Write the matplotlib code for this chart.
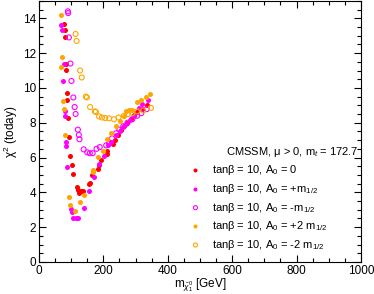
import matplotlib
matplotlib.use("Agg")
import matplotlib.pyplot as plt
from matplotlib.ticker import MultipleLocator

plt.rcParams['font.family'] = ['Liberation Sans', 'DejaVu Sans']
plt.rcParams['mathtext.fontset'] = 'custom'
plt.rcParams['mathtext.rm'] = 'Liberation Sans'
plt.rcParams['mathtext.it'] = 'Liberation Sans:italic'
plt.rcParams['mathtext.bf'] = 'Liberation Sans:bold'

# A0 = 0 (red, filled)
red_x = [79, 81, 80, 84, 83, 87, 87, 91, 95, 98, 102, 107, 118, 121, 124, 130, 137,
         155, 158, 165, 182, 188, 194, 210, 213, 229, 235, 245, 255, 265, 275, 285,
         295, 305, 321, 337]
red_y = [13.7, 13.3, 12.9, 11.4, 11.05, 9.73, 9.3, 8.27, 7.2, 6.1, 5.58, 5.05, 4.3,
         4.15, 3.95, 4.05, 4.05, 4.47, 4.55, 5.0, 5.33, 5.55, 5.85, 6.2, 6.35, 6.78,
         7.0, 7.3, 7.6, 7.8, 8.0, 8.2, 8.45, 8.6, 8.8, 9.03]

# A0 = +m1/2 (magenta, filled)
mag_x = [70, 72, 78, 75, 80, 81, 83, 83, 88, 99, 102, 107, 116, 121, 139, 155, 171,
         186, 203, 215, 225, 240, 252, 262, 272, 283, 295, 310, 320, 339]
mag_y = [13.6, 13.3, 11.4, 10.4, 8.7, 8.4, 6.9, 6.65, 5.45, 3.03, 2.88, 2.55, 2.52,
         2.55, 3.12, 4.07, 4.9, 5.64, 6.1, 6.7, 6.9, 7.3, 7.55, 7.75, 7.95, 8.15,
         8.4, 8.87, 9.1, 9.33]

# A0 = -m1/2 (magenta, open)
magopen_x = [90, 91, 93, 98, 101, 107, 111, 114, 121, 124, 126, 139, 150, 158, 167,
             179, 189, 209, 218, 227, 240, 250, 262, 275, 290, 305, 318, 335]
magopen_y = [14.4, 14.3, 12.9, 11.4, 10.4, 9.45, 8.9, 8.5, 7.6, 7.3, 7.05, 6.47, 6.3,
             6.25, 6.25, 6.5, 6.6, 6.7, 6.8, 7.1, 7.4, 7.6, 7.8, 8.0, 8.2, 8.4, 8.55,
             8.78]

# A0 = +2 m1/2 (orange, filled)
org_x = [68, 72, 70, 75, 78, 81, 92, 96, 112, 128, 139, 167, 168, 184, 200, 213, 225,
         239, 251, 265, 272, 280, 288, 305, 318, 332, 345]
org_y = [14.2, 11.8, 11.2, 9.26, 8.8, 7.3, 3.73, 3.3, 2.93, 3.45, 3.87, 5.3, 5.15,
         6.04, 6.36, 7.07, 7.4, 7.8, 8.1, 8.4, 8.7, 8.72, 8.75, 9.2, 9.3, 9.5, 9.66]

# A0 = -2 m1/2 (orange, open)
orgopen_x = [114, 117, 128, 133, 146, 149, 159, 174, 177, 187, 196, 206, 218, 233,
             247, 264, 277, 290, 305, 324, 348]
orgopen_y = [13.1, 12.7, 11.0, 10.6, 9.5, 9.45, 8.9, 8.65, 8.62, 8.36, 8.3, 8.27,
             8.25, 8.2, 8.3, 8.4, 8.5, 8.55, 8.65, 8.7, 8.85]

fig = plt.figure(figsize=(3.74, 2.94), dpi=100)
ax = fig.add_axes([0.104, 0.109, 0.861, 0.888])

ms = 13
ax.scatter(red_x, red_y, s=ms, color='#ff0000', lw=0, label=r'tanβ = 10, A$_0$ = 0')
ax.scatter(mag_x, mag_y, s=ms, color='#ff00ff', lw=0, label=r'tanβ = 10, A$_0$ = +m$_{1/2}$')
ax.scatter(magopen_x, magopen_y, s=ms, facecolors='none', edgecolors='#ff00ff', lw=0.8,
           label=r'tanβ = 10, A$_0$ = -m$_{1/2}$')
ax.scatter(org_x, org_y, s=ms, color='#ffa500', lw=0, label=r'tanβ = 10, A$_0$ = +2 m$_{1/2}$')
ax.scatter(orgopen_x, orgopen_y, s=ms, facecolors='none', edgecolors='#ffa500', lw=0.8,
           label=r'tanβ = 10, A$_0$ = -2 m$_{1/2}$')

ax.set_xlim(0, 1000)
ax.set_ylim(0, 15)
ax.xaxis.set_major_locator(MultipleLocator(200))
ax.xaxis.set_minor_locator(MultipleLocator(50))
ax.yaxis.set_major_locator(MultipleLocator(2))
ax.yaxis.set_minor_locator(MultipleLocator(0.5))
ax.tick_params(which='both', direction='in', top=True, right=True, labelsize=8.5)
ax.tick_params(which='major', length=5, width=0.8, pad=2)
ax.tick_params(which='minor', length=3, width=0.8)
ax.set_yticks([0, 2, 4, 6, 8, 10, 12, 14])

ax.set_xlabel(r'm$_{\tilde{\chi}_1^0}$ [GeV]', fontsize=8.5, labelpad=0)
ax.set_ylabel(r'χ$^2$ (today)', fontsize=8.5, labelpad=2)

ax.text(580, 6.3, r'CMSSM, μ > 0, m$_t$ = 172.7', fontsize=8, va='center', ha='left')
ax.legend(loc='upper left', bbox_to_anchor=(0.469, 0.378), frameon=False, fontsize=8,
          borderpad=0, handlelength=1, handletextpad=1.0, labelspacing=0.42,
          scatterpoints=1, borderaxespad=0, markerscale=0.8)

fig.savefig('out.png', dpi=100)
